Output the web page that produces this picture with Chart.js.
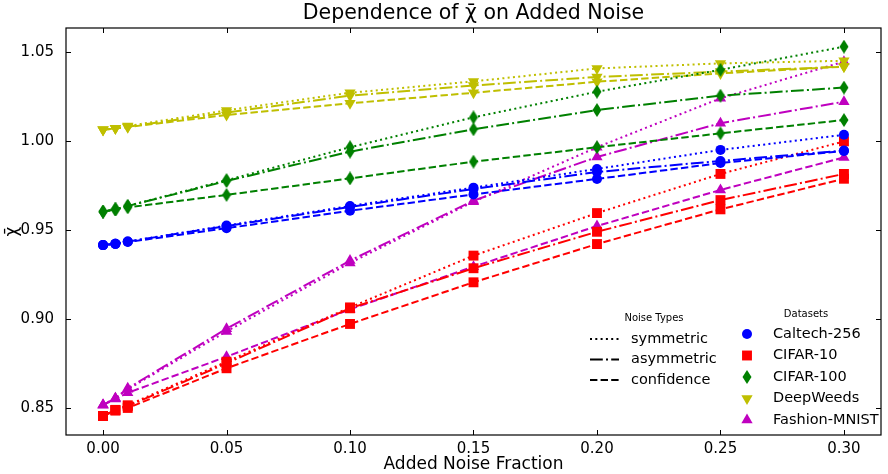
<!DOCTYPE html>
<html>
<head>
<meta charset="utf-8">
<script src="https://cdn.jsdelivr.net/npm/chart.js@4"></script>
<style>
  html, body { margin: 0; padding: 0; background: #fff; }
</style>
</head>
<body>
<canvas id="myChart" width="888" height="474"></canvas>
<script>
// values
var noiseFractions = [0, 0.005, 0.01, 0.05, 0.10, 0.15, 0.20, 0.25, 0.30];
var xTicks = [0.00, 0.05, 0.10, 0.15, 0.20, 0.25, 0.30];
var yTicks = [0.85, 0.90, 0.95, 1.00, 1.05];
var noiseTypes = ['symmetric', 'asymmetric', 'confidence'];
var datasetNames = ['Caltech-256', 'CIFAR-10', 'CIFAR-100', 'DeepWeeds', 'Fashion-MNIST'];

var caltechSym  = [0.9415, 0.9422, 0.9435, 0.9525, 0.9635, 0.9738, 0.9843, 0.9950, 1.0035];
var caltechAsym = [0.9415, 0.9422, 0.9435, 0.9522, 0.9630, 0.9730, 0.9826, 0.9888, 0.9946];
var caltechConf = [0.9415, 0.9422, 0.9432, 0.9510, 0.9608, 0.9700, 0.9787, 0.9876, 0.9944];

var cifar10Sym  = [0.8455, 0.8489, 0.8515, 0.8760, 0.9065, 0.9356, 0.9595, 0.9815, 0.9998];
var cifar10Asym = [0.8455, 0.8489, 0.8510, 0.8751, 0.9060, 0.9285, 0.9490, 0.9668, 0.9815];
var cifar10Conf = [0.8455, 0.8485, 0.8500, 0.8723, 0.8972, 0.9206, 0.9421, 0.9616, 0.9788];

var cifar100Sym  = [0.9603, 0.9616, 0.9635, 0.9780, 0.9965, 1.0133, 1.0277, 1.0400, 1.0530];
var cifar100Asym = [0.9603, 0.9616, 0.9635, 0.9775, 0.9940, 1.0066, 1.0174, 1.0255, 1.0300];
var cifar100Conf = [0.9603, 0.9616, 0.9627, 0.9697, 0.9790, 0.9884, 0.9965, 1.0043, 1.0118];

var weedsSym  = [1.0063, 1.0071, 1.0084, 1.0172, 1.0271, 1.0335, 1.0408, 1.0436, 1.0451];
var weedsAsym = [1.0063, 1.0071, 1.0080, 1.0160, 1.0255, 1.0312, 1.0360, 1.0390, 1.0418];
var weedsConf = [1.0063, 1.0071, 1.0078, 1.0146, 1.0212, 1.0271, 1.0333, 1.0380, 1.0418];

var fashionSym  = [0.8517, 0.8555, 0.8605, 0.8930, 0.9315, 0.9659, 0.9965, 1.0240, 1.0446];
var fashionAsym = [0.8517, 0.8555, 0.8610, 0.8945, 0.9328, 0.9665, 0.9910, 1.0100, 1.0221];
var fashionConf = [0.8517, 0.8550, 0.8585, 0.8788, 0.9054, 0.9294, 0.9522, 0.9725, 0.9908];

var seriesValues = [
  [caltechSym, caltechAsym, caltechConf],
  [cifar10Sym, cifar10Asym, cifar10Conf],
  [cifar100Sym, cifar100Asym, cifar100Conf],
  [weedsSym, weedsAsym, weedsConf],
  [fashionSym, fashionAsym, fashionConf]
];

var colors = ['#0000ff', '#ff0000', '#008000', '#bfbf00', '#bf00bf'];
var dashes = [[2, 3.3], [12.8, 3.2, 2, 3.2], [7.4, 3.2]];
var titleText = 'Dependence of \u03c7\u0304 on Added Noise';

// thin diamond marker (matplotlib 'd')
function makeDiamond(color) {
  var c = document.createElement('canvas');
  c.width = 10; c.height = 14;
  var g = c.getContext('2d');
  g.fillStyle = color;
  g.beginPath();
  g.moveTo(5, 0); g.lineTo(9.5, 7); g.lineTo(5, 14); g.lineTo(0.5, 7);
  g.closePath();
  g.fill();
  return c;
}
var greenDiamond = makeDiamond(colors[2]);

var markers = [
  {style: 'circle', radius: 5, rotation: 0},
  {style: 'rect', radius: 7, rotation: 0},
  {style: greenDiamond, radius: 6, rotation: 0},
  {style: 'triangle', radius: 6.5, rotation: 180},
  {style: 'triangle', radius: 6.5, rotation: 0}
];

var chartDatasets = [];
datasetNames.forEach(function (name, d) {
  noiseTypes.forEach(function (nt, n) {
    chartDatasets.push({
      label: name + ' ' + nt,
      data: noiseFractions.map(function (x, i) { return {x: x, y: seriesValues[d][n][i]}; }),
      borderColor: colors[d],
      backgroundColor: colors[d],
      borderWidth: 2,
      borderDash: dashes[n],
      pointStyle: markers[d].style,
      pointRadius: markers[d].radius,
      pointRotation: markers[d].rotation,
      pointBorderWidth: 0,
      pointHoverRadius: markers[d].radius,
      tension: 0,
      fill: false
    });
  });
});

// title, frame, inward ticks and the two legends
var decorations = {
  id: 'decorations',
  afterDraw: function (chart) {
    var ctx = chart.ctx;
    var a = chart.chartArea;
    var xs = chart.scales.x, ys = chart.scales.y;
    ctx.save();
    ctx.fillStyle = '#000';
    ctx.font = '20.5px "DejaVu Sans"';
    ctx.textAlign = 'center';
    ctx.textBaseline = 'middle';
    ctx.fillText(titleText, (a.left + a.right) / 2, 14);

    ctx.strokeStyle = '#000';
    ctx.lineWidth = 1.2;
    ctx.setLineDash([]);
    ctx.strokeRect(a.left, a.top, a.right - a.left, a.bottom - a.top);
    ctx.lineWidth = 1;
    ctx.beginPath();
    xTicks.forEach(function (v) {
      var px = Math.round(xs.getPixelForValue(v)) + 0.5;
      ctx.moveTo(px, a.bottom); ctx.lineTo(px, a.bottom - 5);
      ctx.moveTo(px, a.top); ctx.lineTo(px, a.top + 5);
    });
    yTicks.forEach(function (v) {
      var py = Math.round(ys.getPixelForValue(v)) + 0.5;
      ctx.moveTo(a.left, py); ctx.lineTo(a.left + 5, py);
      ctx.moveTo(a.right, py); ctx.lineTo(a.right - 5, py);
    });
    ctx.stroke();

    // Noise Types legend
    ctx.font = '10px "DejaVu Sans"';
    ctx.textAlign = 'center';
    ctx.fillText('Noise Types', 654, 318);
    ctx.font = '14.5px "DejaVu Sans"';
    ctx.textAlign = 'left';
    noiseTypes.forEach(function (nt, n) {
      var y = 339 + n * 20.5;
      ctx.setLineDash(dashes[n]);
      ctx.lineWidth = 2;
      ctx.beginPath();
      ctx.moveTo(590, y); ctx.lineTo(619, y);
      ctx.stroke();
      ctx.setLineDash([]);
      ctx.fillText(nt, 631, y);
    });

    // Datasets legend
    ctx.font = '10px "DejaVu Sans"';
    ctx.textAlign = 'center';
    ctx.fillText('Datasets', 806, 314);
    ctx.font = '14.5px "DejaVu Sans"';
    ctx.textAlign = 'left';
    datasetNames.forEach(function (name, d) {
      var y = 334 + d * 21.5;
      var mk = markers[d];
      ctx.fillStyle = colors[d];
      Chart.helpers.drawPoint(ctx, {pointStyle: mk.style, rotation: mk.rotation, radius: mk.radius, borderWidth: 0}, 747, y);
      ctx.fillStyle = '#000';
      ctx.fillText(name, 773, y);
    });
    ctx.restore();
  }
};

var ctx = document.getElementById('myChart').getContext('2d');
var myChart = new Chart(ctx, {
  type: 'line',
  data: { datasets: chartDatasets },
  plugins: [decorations],
  options: {
    responsive: false,
    animation: false,
    layout: { padding: { top: 28, right: 4, left: 0, bottom: 0 } },
    plugins: {
      legend: { display: false },
      tooltip: { enabled: false },
      title: { display: false }
    },
    scales: {
      x: {
        type: 'linear',
        min: -0.015,
        max: 0.315,
        afterBuildTicks: function (scale) {
          scale.ticks = xTicks.map(function (v) { return {value: v}; });
        },
        afterFit: function (scale) { scale.height = 39; },
        grid: { display: false, drawTicks: false },
        border: { display: false },
        ticks: {
          color: '#000',
          padding: 5,
          maxRotation: 0,
          font: { family: '"DejaVu Sans"', size: 15 },
          callback: function (v) { return v.toFixed(2); }
        },
        title: {
          display: true,
          text: 'Added Noise Fraction',
          color: '#000',
          padding: { top: 0, bottom: -1 },
          font: { family: '"DejaVu Sans"', size: 17 }
        }
      },
      y: {
        min: 0.8348,
        max: 1.0635,
        afterBuildTicks: function (scale) {
          scale.ticks = yTicks.map(function (v) { return {value: v}; });
        },
        afterFit: function (scale) { scale.width = 66; },
        grid: { display: false, drawTicks: false },
        border: { display: false },
        ticks: {
          color: '#000',
          padding: 12,
          font: { family: '"DejaVu Sans"', size: 15 },
          callback: function (v) { return v.toFixed(2); }
        },
        title: {
          display: true,
          text: '\u03c7\u0304',
          color: '#000',
          padding: { top: 2, bottom: 0 },
          font: { family: '"DejaVu Sans"', size: 17 }
        }
      }
    }
  }
});
</script>
</body>
</html>
